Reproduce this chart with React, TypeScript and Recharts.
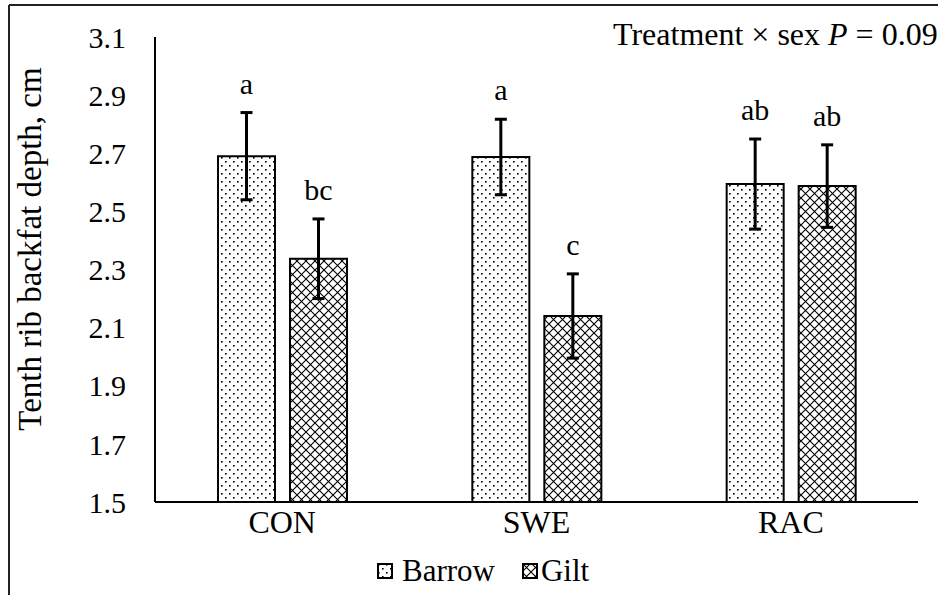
import React from 'react';
import { BarChart, Bar, XAxis, YAxis, ErrorBar, LabelList, Legend } from 'recharts';

const categories = ['CON', 'SWE', 'RAC'];
const barrowMeans = [2.69, 2.687, 2.594];
const giltMeans = [2.337, 2.14, 2.587];
const barrowSE = [0.15, 0.13, 0.155];
const giltSE = [0.137, 0.145, 0.142];
const barrowLetters = ['a', 'a', 'ab'];
const giltLetters = ['bc', 'c', 'ab'];
const yTicks = [1.5, 1.7, 1.9, 2.1, 2.3, 2.5, 2.7, 2.9, 3.1];
const yMin = 1.5;
const yMax = 3.1;

const data = categories.map((c, i) => ({
  cat: c,
  barrow: barrowMeans[i],
  gilt: giltMeans[i],
  barrowErr: barrowSE[i],
  giltErr: giltSE[i],
}));

const FONT = '"Liberation Serif", "Times New Roman", serif';

const makeLetterLabel = (key: 'barrow' | 'gilt', errs: number[], letters: string[]) => (props: any) => {
  const { x, y, width, height, index } = props;
  const v = data[index][key];
  const pxPerUnit = height / (v - yMin);
  const capY = y - errs[index] * pxPerUnit;
  return (
    <text x={x + width / 2} y={capY - 19} textAnchor="middle" fontSize={30} fontFamily={FONT} fill="#000">
      {letters[index]}
    </text>
  );
};

const LegendContent = () => (
  <div style={{ display: 'flex', alignItems: 'center', fontFamily: FONT, fontSize: 31, color: '#000', height: 30, lineHeight: '30px' }}>
    <svg width={16} height={16} style={{ marginRight: 9 }}>
      <rect x={1} y={1} width={14} height={14} fill="url(#dotsPat)" stroke="#000" strokeWidth={2} />
    </svg>
    <span style={{ marginRight: 27 }}>Barrow</span>
    <svg width={16} height={16} style={{ marginRight: 3 }}>
      <rect x={1} y={1} width={14} height={14} fill="url(#diamondPat)" stroke="#000" strokeWidth={2} />
    </svg>
    <span>Gilt</span>
  </div>
);

const YTitle = () => (
  <text
    x={0}
    y={0}
    transform="translate(30, 249) rotate(-90)"
    textAnchor="middle"
    dominantBaseline="central"
    fontSize={33}
    fontFamily={FONT}
    fill="#000"
  >
    Tenth rib backfat depth, cm
  </text>
);

export default function App() {
  return (
    <div style={{ position: 'fixed', left: 0, top: 0, width: 938, height: 595, background: '#fff', overflow: 'hidden' }}>
      <svg width={0} height={0} style={{ position: 'absolute' }}>
        <defs>
          <pattern id="dotsPat" width={8} height={8} patternUnits="userSpaceOnUse">
            <rect width={8} height={8} fill="#fff" />
            <rect x={1} y={1} width={1.6} height={1.6} fill="#000" />
            <rect x={5} y={5} width={1.6} height={1.6} fill="#000" />
          </pattern>
          <pattern id="diamondPat" width={9} height={9} patternUnits="userSpaceOnUse">
            <rect width={9} height={9} fill="#fff" />
            <path d="M0,0 L9,9 M9,0 L0,9" stroke="#000" strokeWidth={1.1} />
          </pattern>
        </defs>
      </svg>
      <BarChart
        width={938}
        height={595}
        data={data}
        margin={{ top: 37, right: 20, left: 0, bottom: 33 }}
        barSize={57}
        barGap={15}
      >
        <XAxis
          dataKey="cat"
          height={30}
          tickLine={false}
          axisLine={{ stroke: '#000', strokeWidth: 2 }}
          tick={{ fontSize: 32, fontFamily: FONT, fill: '#000' }}
          tickMargin={2}
        />
        <YAxis
          width={155}
          domain={[yMin, yMax]}
          ticks={yTicks}
          interval={0}
          tickLine={false}
          axisLine={{ stroke: '#000', strokeWidth: 2 }}
          tick={{ fontSize: 30, fontFamily: FONT, fill: '#000' }}
          tickFormatter={(v: number) => v.toFixed(1)}
          tickMargin={23}
          label={<YTitle />}
        />
        <Legend
          verticalAlign="bottom"
          content={<LegendContent />}
          wrapperStyle={{ position: 'absolute', left: 377, top: 556, width: 'auto', bottom: 'auto', height: 30 }}
        />
        <Bar dataKey="barrow" fill="url(#dotsPat)" stroke="#000" strokeWidth={2} isAnimationActive={false}>
          <ErrorBar dataKey="barrowErr" width={6} strokeWidth={3} stroke="#000" />
          <LabelList dataKey="barrow" content={makeLetterLabel('barrow', barrowSE, barrowLetters)} />
        </Bar>
        <Bar dataKey="gilt" fill="url(#diamondPat)" stroke="#000" strokeWidth={2} isAnimationActive={false}>
          <ErrorBar dataKey="giltErr" width={6} strokeWidth={3} stroke="#000" />
          <LabelList dataKey="gilt" content={makeLetterLabel('gilt', giltSE, giltLetters)} />
        </Bar>
      </BarChart>
      <svg width={938} height={595} style={{ position: 'absolute', left: 0, top: 0, pointerEvents: 'none' }}>
        <line x1={9} y1={5} x2={938} y2={5} stroke="#222" strokeWidth={2} />
        <line x1={9} y1={5} x2={9} y2={595} stroke="#222" strokeWidth={2} />
        <text x={613} y={45} fontSize={32} fontFamily={FONT} fill="#000">
          Treatment × sex <tspan fontStyle="italic">P</tspan> = 0.09
        </text>
      </svg>
    </div>
  );
}
